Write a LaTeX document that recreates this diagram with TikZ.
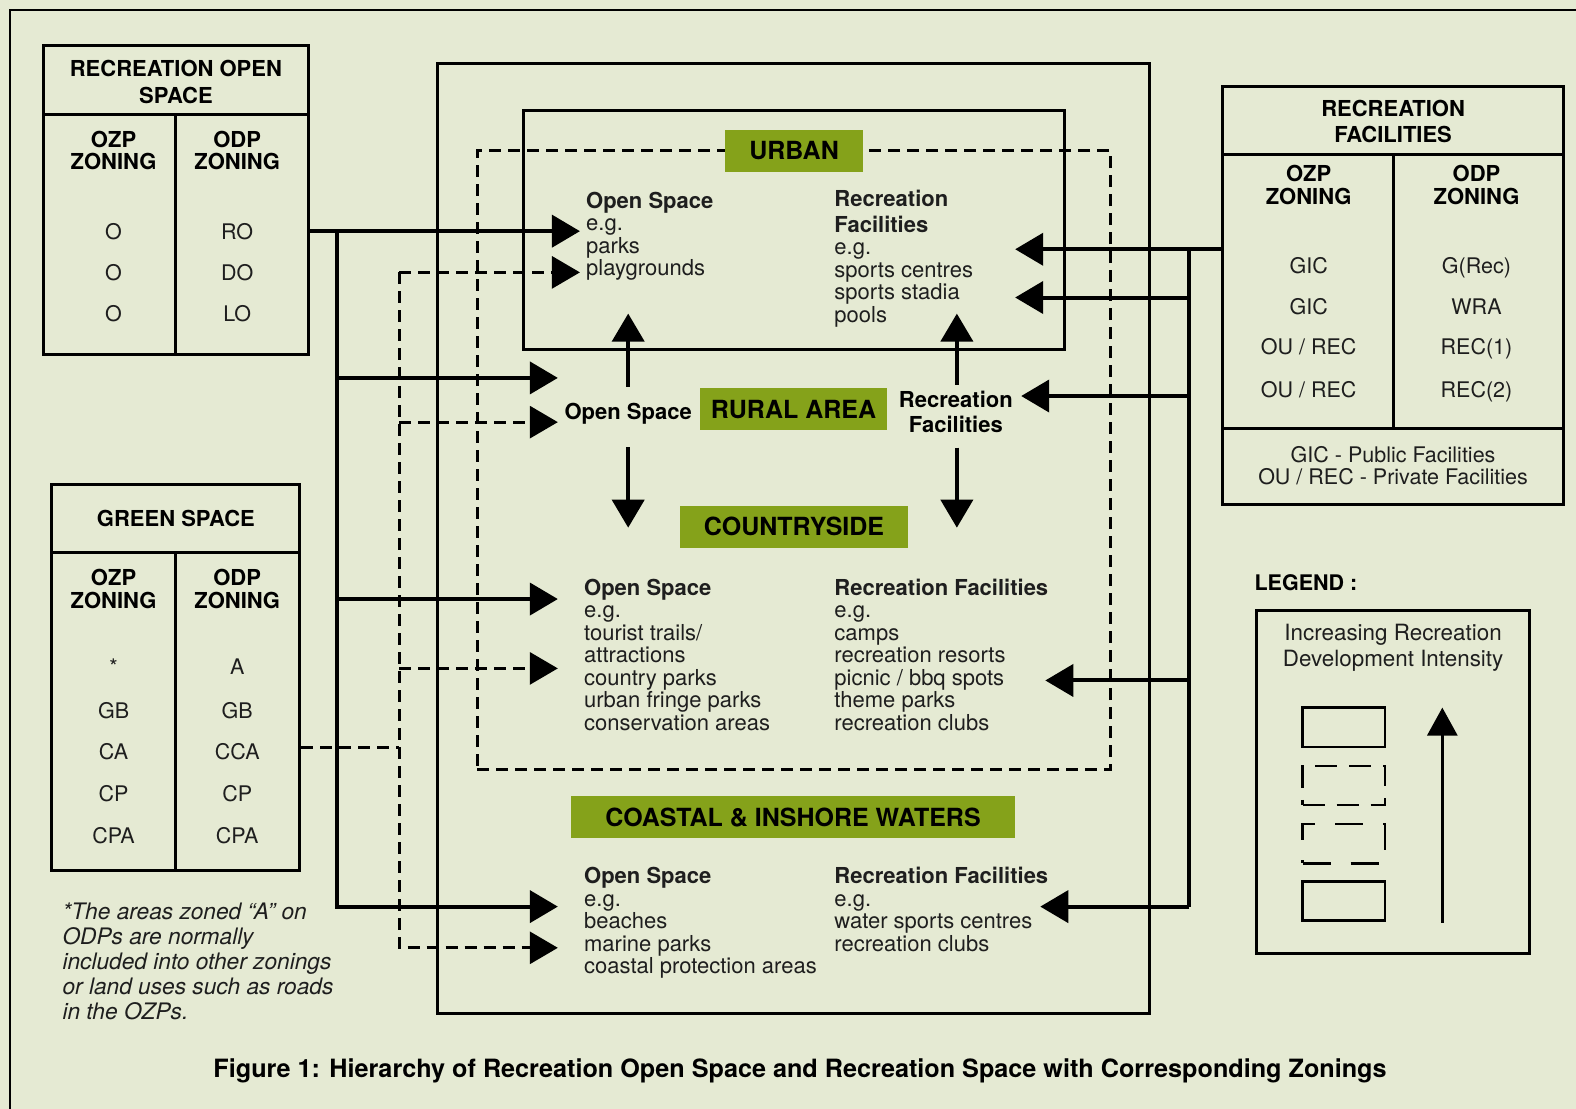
\documentclass[tikz,border=0pt]{standalone}
\usepackage{fontspec}
\setmainfont{TeX Gyre Heros}
\usetikzlibrary{arrows.meta,fit}
\definecolor{bgc}{RGB}{229,234,211}
\definecolor{labc}{RGB}{133,162,26}
\definecolor{txtc}{RGB}{30,30,30}
\newcommand\rs{\rule{0pt}{17pt}}
\begin{document}
\begin{tikzpicture}[x=1.0051pt,y=-1.0051pt,
  box/.style={draw, line width=3pt, inner sep=0pt},
  thinbox/.style={draw, line width=2.5pt, inner sep=0pt},
  lab/.style={fill=labc, inner sep=0pt, font=\bfseries\fontsize{25}{25}\selectfont},
  tb/.style={font=\bfseries\fontsize{22}{22}\selectfont, anchor=base, inner sep=0pt},
  tr/.style={font=\fontsize{21.5}{22}\selectfont, anchor=base, inner sep=0pt, text=txtc},
  blk/.style={anchor=north west, inner sep=0pt, align=left, font=\fontsize{22}{22.5}\selectfont, text=txtc},
  conn/.style={line width=4pt},
  dconn/.style={line width=3pt, dash pattern=on 12pt off 7pt},
  tip/.style={-{Triangle[length=28pt,width=32pt]}},
  sep/.style={line width=3pt}
]
\fill[bgc] (0,0) rectangle (1568,1103);
\useasboundingbox (0,0) rectangle (1568,1103);
% frame
\draw[line width=2.5pt] (10,1103) -- (10,10) -- (1568,10);

% ---------- Table 1: Recreation open space ----------
\node[box, fit={(43,45) (307,353)}] (t1) {};
\draw[sep] (43,114) -- (307,114);
\draw[sep] (175,114) -- (175,353);
\node[tb] (t1h1) at (175,76) {RECREATION OPEN};
\node[tb] (t1h2) at (175,103) {SPACE};
\node[tb] (t1a1) at (113,147) {OZP};
\node[tb] (t1a2) at (113,169) {ZONING};
\node[tb] (t1b1) at (236,147) {ODP};
\node[tb] (t1b2) at (236,169) {ZONING};
\node[tr] (t1r1a) at (113,238) {O};
\node[tr] (t1r2a) at (113,279) {O};
\node[tr] (t1r3a) at (113,320) {O};
\node[tr] (t1r1b) at (236,238) {RO};
\node[tr] (t1r2b) at (236,279) {DO};
\node[tr] (t1r3b) at (236,320) {LO};

% ---------- Table 2: Green space ----------
\node[box, fit={(51,482) (298,866)}] (t2) {};
\draw[sep] (51,550) -- (298,550);
\draw[sep] (175,550) -- (175,866);
\node[tb] (t2h) at (175,524) {GREEN SPACE};
\node[tb] (t2a1) at (113,583) {OZP};
\node[tb] (t2a2) at (113,605) {ZONING};
\node[tb] (t2b1) at (236,583) {ODP};
\node[tb] (t2b2) at (236,605) {ZONING};
\node[tr] (t2r1a) at (113,671) {*};
\node[tr] (t2r2a) at (113,715) {GB};
\node[tr] (t2r3a) at (113,756) {CA};
\node[tr] (t2r4a) at (113,797) {CP};
\node[tr] (t2r5a) at (113,839) {CPA};
\node[tr] (t2r1b) at (236,671) {A};
\node[tr] (t2r2b) at (236,715) {GB};
\node[tr] (t2r3b) at (236,756) {CCA};
\node[tr] (t2r4b) at (236,797) {CP};
\node[tr] (t2r5b) at (236,839) {CPA};
\node[anchor=north west, inner sep=0pt, align=left, text=txtc, font=\itshape\fontsize{22.7}{25}\selectfont] (fn) at (62,898)
  {\rs*The areas zoned “A” on\\ODPs are normally\\included into other zonings\\or land uses such as roads\\in the OZPs.};

% ---------- Table 3: Recreation facilities ----------
\node[box, fit={(1216,86) (1556,502)}] (t3) {};
\draw[sep] (1216,154) -- (1556,154);
\draw[sep] (1216,426) -- (1556,426);
\draw[sep] (1386,154) -- (1386,426);
\node[tb] (t3h1) at (1386,116) {RECREATION};
\node[tb] (t3h2) at (1386,142) {FACILITIES};
\node[tb] (t3a1) at (1302,181) {OZP};
\node[tb] (t3a2) at (1302,203) {ZONING};
\node[tb] (t3b1) at (1469,181) {ODP};
\node[tb] (t3b2) at (1469,203) {ZONING};
\node[tr] (t3r1a) at (1302,272) {GIC};
\node[tr] (t3r2a) at (1302,313) {GIC};
\node[tr] (t3r3a) at (1302,353) {OU / REC};
\node[tr] (t3r4a) at (1302,395) {OU / REC};
\node[tr] (t3r1b) at (1469,272) {G(Rec)};
\node[tr] (t3r2b) at (1469,313) {WRA};
\node[tr] (t3r3b) at (1469,353) {REC(1)};
\node[tr] (t3r4b) at (1469,395) {REC(2)};
\node[tr] (t3f1) at (1386,460) {GIC - Public Facilities};
\node[tr] (t3f2) at (1386,482) {OU / REC - Private Facilities};

% ---------- Legend ----------
\node[font=\bfseries\fontsize{21.5}{21.5}\selectfont, anchor=base west, inner sep=0pt] (legt) at (1248,587) {LEGEND :};
\node[box, fit={(1250,607) (1522,949)}] (leg) {};
\node[font=\fontsize{22.4}{22}\selectfont, anchor=base, inner sep=0pt, text=txtc] (legl1) at (1386,637) {Increasing Recreation};
\node[font=\fontsize{22.4}{22}\selectfont, anchor=base, inner sep=0pt, text=txtc] (legl2) at (1386,663) {Development Intensity};
\node[thinbox, fit={(1296,704) (1378,743)}] (lr1) {};
\node[thinbox, dash pattern=on 22pt off 12pt, fit={(1296,762) (1378,801)}] (lr2) {};
\node[thinbox, dash pattern=on 28pt off 20pt, fit={(1296,820) (1378,859)}] (lr3) {};
\node[thinbox, fit={(1296,877) (1378,916)}] (lr4) {};
\coordinate (la1) at (1435,918);
\coordinate (la2) at (1435,704);
\draw[line width=3pt, -{Triangle[length=28pt,width=30pt]}] (la1) -- (la2);

% ---------- Central boxes ----------
\node[box, fit={(435,63) (1144,1008)}] (big) {};
\node[box, fit={(521,110) (1059,348)}] (urb) {};
\node[draw, line width=3pt, dash pattern=on 12pt off 7pt, inner sep=0pt, fit={(475,150) (1105,766)}] (dsh) {};

\node[lab, minimum width=138pt, minimum height=42pt] (lurban) at (790,150) {URBAN};
\node[lab, minimum width=187pt, minimum height=42pt] (lrural) at (789.5,407) {RURAL AREA};
\node[lab, minimum width=228pt, minimum height=42pt] (lcountry) at (790,524) {COUNTRYSIDE};
\node[lab, minimum width=444pt, minimum height=42pt] (lcoast) at (789,813) {COASTAL \& INSHORE WATERS};

% ---------- Text blocks ----------
\node[blk] (uos) at (583,190) {\rs\textbf{Open Space}\\e.g.\\parks\\playgrounds};
\node[blk] (urf) at (830,188) {\rs\textbf{Recreation}\\[3.5pt]\textbf{Facilities}\\e.g.\\sports centres\\sports stadia\\pools};
\node[tb] (ros) at (625,417) {Open Space};
\node[anchor=north, inner sep=0pt, align=center, font=\bfseries\fontsize{22}{22}\selectfont] (rrf) at (951,388) {\rs Recreation\\[3pt]Facilities};
\node[blk] (cos) at (581,575) {\rs\textbf{Open Space}\\e.g.\\tourist trails/\\attractions\\country parks\\urban fringe parks\\conservation areas};
\node[blk] (crf) at (830,575) {\rs\textbf{Recreation Facilities}\\e.g.\\camps\\recreation resorts\\picnic / bbq spots\\theme parks\\recreation clubs};
\node[blk] (wos) at (581,862) {\rs\textbf{Open Space}\\e.g.\\beaches\\marine parks\\coastal protection areas};
\node[blk] (wrf) at (830,862) {\rs\textbf{Recreation Facilities}\\e.g.\\water sports centres\\recreation clubs};

% ---------- Vertical arrows in the rural area ----------
\coordinate (upL) at (625,312);
\coordinate (upR) at (952,312);
\coordinate (dnL) at (625,525);
\coordinate (dnR) at (952,525);
\draw[conn,tip] ([yshift=16pt]ros.north) -- (upL);
\draw[conn,tip] ([yshift=-23pt]ros.south) -- (dnL);
\draw[conn,tip] ([yshift=5pt]rrf.north -| upR) -- (upR);
\draw[conn,tip] ([yshift=-15pt]rrf.south -| dnR) -- (dnR);

% ---------- Solid connectors from Recreation Open Space ----------
\coordinate (jL) at (335,230);
\coordinate (tU1) at (577,230);
\coordinate (tR1) at (555,376);
\coordinate (tC1) at (555,596);
\coordinate (tW1) at (555,902);
\draw[conn,tip] (t1.east |- tU1) -- (tU1);
\draw[conn,tip] (jL) -- (jL |- tW1) -- (tW1);
\draw[conn,tip] (jL |- tR1) -- (tR1);
\draw[conn,tip] (jL |- tC1) -- (tC1);

% ---------- Dashed connectors from Green Space ----------
\coordinate (jD) at (397,744);
\coordinate (tU2) at (577,271);
\coordinate (tR2) at (555,420);
\coordinate (tC2) at (555,665);
\coordinate (tW2) at (555,943);
\draw[dconn] (t2.east |- jD) -- (jD);
\draw[dconn,tip] (jD |- tU2) -- (tU2);
\draw[dconn,tip] (jD |- tU2) -- (jD |- tW2) -- (tW2);
\draw[dconn,tip] (jD |- tR2) -- (tR2);
\draw[dconn,tip] (jD |- tC2) -- (tC2);

% ---------- Connectors from Recreation Facilities ----------
\coordinate (jR) at (1183,248);
\coordinate (rU1) at (1010,248);
\coordinate (rU2) at (1010,296);
\coordinate (rR) at (1016,394);
\coordinate (rC) at (1040,677);
\coordinate (rW) at (1035,902);
\draw[conn,tip] (t3.west |- rU1) -- (rU1);
\draw[conn] (jR) -- (jR |- rW);
\draw[conn,tip] (jR |- rU2) -- (rU2);
\draw[conn,tip] (jR |- rR) -- (rR);
\draw[conn,tip] (jR |- rC) -- (rC);
\draw[conn,tip] (jR |- rW) -- (rW);

% ---------- Caption ----------
\node[font=\bfseries\fontsize{25.2}{25}\selectfont, anchor=base, inner sep=0pt] (cap) at (796,1072)
  {Figure 1: Hierarchy of Recreation Open Space and Recreation Space with Corresponding Zonings};
\end{tikzpicture}
\end{document}
